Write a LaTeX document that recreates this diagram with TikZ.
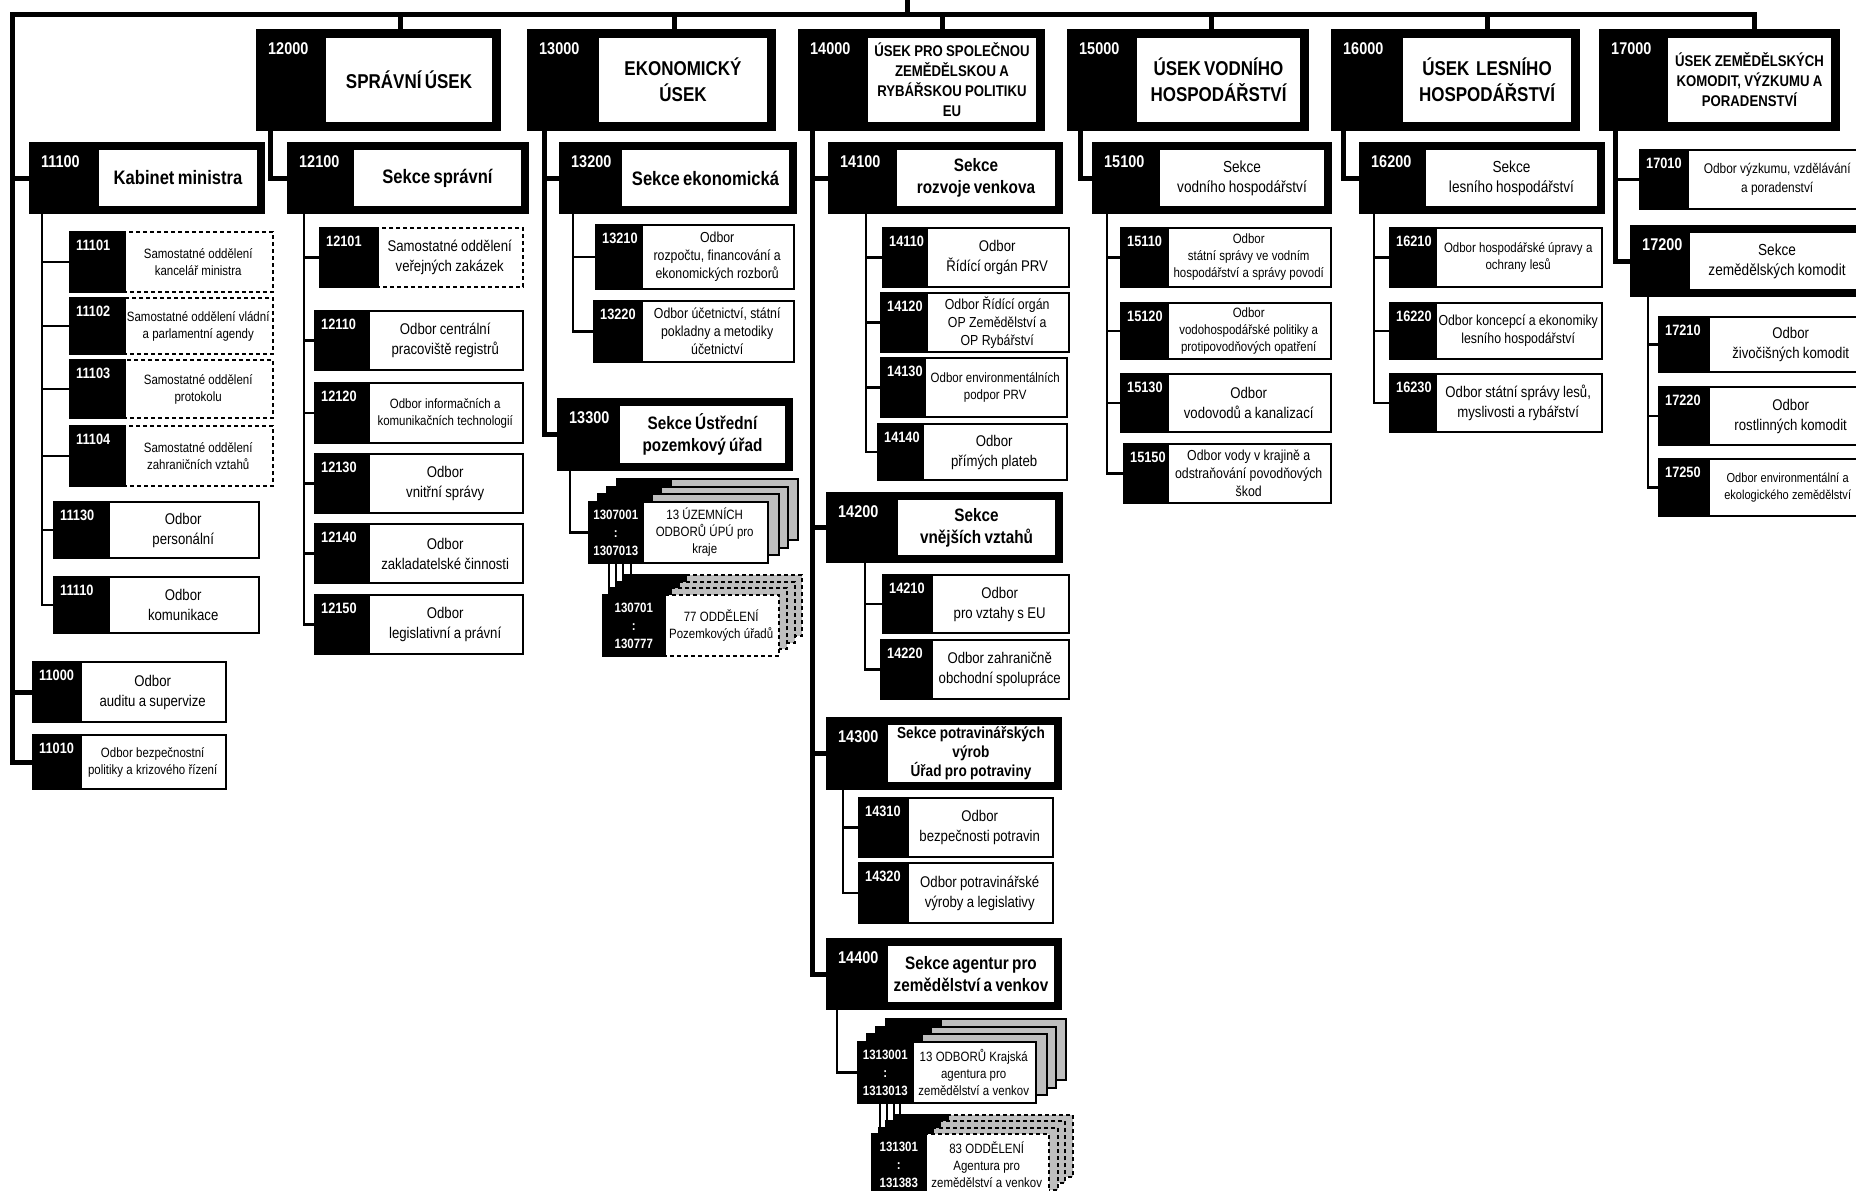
\documentclass[tikz,border=0pt]{standalone}
\usepackage{fontspec}
\setmainfont[FakeStretch=0.85]{Liberation Sans}
\usetikzlibrary{backgrounds}
\definecolor{layergray}{RGB}{190,190,190}
\newcommand\ftU{\bfseries\fontsize{20}{26}\selectfont}
\newcommand\ftUs{\bfseries\fontsize{15.5}{20}\selectfont}
\newcommand\ftS{\bfseries\fontsize{19.5}{22}\selectfont}
\newcommand\ftSt{\bfseries\fontsize{18}{22}\selectfont}
\newcommand\ftSp{\bfseries\fontsize{16}{19}\selectfont}
\newcommand\ftSr{\fontsize{16}{20}\selectfont}
\newcommand\ftA{\fontsize{15.5}{20}\selectfont}
\newcommand\ftAs{\fontsize{14}{19}\selectfont}
\newcommand\ftB{\fontsize{14.5}{18}\selectfont}
\newcommand\ftC{\fontsize{13.5}{17}\selectfont}
\newcommand\ftCs{\fontsize{13}{17}\selectfont}
\tikzset{
  trunk/.style={line width=5pt, line cap=rect},
  thinln/.style={line width=2.2pt},
  blkbox/.style={fill=black, draw=none, inner sep=0pt},
  whtbox/.style={fill=white, draw=none, inner sep=0pt},
  obox/.style={fill=white, draw=black, line width=2pt, inner sep=0pt},
  dbox/.style={obox, dash pattern=on 4pt off 3pt},
  txt/.style={align=center, inner sep=0pt},
  numlbl/.style={text=white, font=\bfseries\fontsize{15}{18}\selectfont, inner sep=0pt, anchor=north west},
  biglbl/.style={numlbl, font=\bfseries\fontsize{17}{20}\selectfont},
  stklbl/.style={text=white, font=\bfseries\fontsize{13.5}{18}\selectfont, align=center, inner sep=0pt},
}
% big / sekce box: name x1 y1 x2 y2 split inset number text
\newcommand\UsekBox[9]{%
  \pgfmathsetmacro\bxW{#4-#2}\pgfmathsetmacro\bxH{#5-#3}%
  \pgfmathsetmacro\bxWw{#4-#7-#6}\pgfmathsetmacro\bxHw{#5-#3-2*#7}%
  \pgfmathsetmacro\bxT{#4-#7-#6-4}%
  \pgfmathsetmacro\bxCx{(#2+#4)/2}\pgfmathsetmacro\bxCy{(#3+#5)/2}%
  \pgfmathsetmacro\bxWx{(#6+#4-#7)/2}%
  \pgfmathsetmacro\bxNx{#2+12}\pgfmathsetmacro\bxNy{#3+13}%
  \node[blkbox, minimum width=\bxW pt, minimum height=\bxH pt] (#1) at (\bxCx,\bxCy) {};%
  \node[whtbox, minimum width=\bxWw pt, minimum height=\bxHw pt] (#1w) at (\bxWx,\bxCy) {};%
  \node[txt, text width=\bxT pt] (#1x) at (#1w.center) {#9\par};%
  \node[biglbl] (#1n) at (\bxNx,\bxNy) {#8};%
}
% odbor box: name x1 y1 x2 y2 split style number text
\newcommand\OdbBox[9]{%
  \pgfmathsetmacro\bxW{#4-#2}\pgfmathsetmacro\bxH{#5-#3}%
  \pgfmathsetmacro\bxWk{#6-#2}\pgfmathsetmacro\bxWw{#4-#6}%
  \pgfmathsetmacro\bxT{#4-#6-5}%
  \pgfmathsetmacro\bxCx{(#2+#4)/2}\pgfmathsetmacro\bxCy{(#3+#5)/2}%
  \pgfmathsetmacro\bxNx{#2+7}\pgfmathsetmacro\bxNy{#3+8}%
  \node[inner sep=0pt, minimum width=\bxW pt, minimum height=\bxH pt] (#1) at (\bxCx,\bxCy) {};%
  \node[#7, minimum width=\bxWw pt, minimum height=\bxH pt, anchor=east] (#1w) at (#1.east) {};%
  \node[blkbox, draw=black, line width=2pt, minimum width=\bxWk pt, minimum height=\bxH pt, anchor=west] (#1k) at (#1.west) {};%
  \node[txt, text width=\bxT pt] (#1x) at (#1w.center) {#9\par};%
  \node[numlbl] (#1n) at (\bxNx,\bxNy) {#8};%
}
% stack: name x1 y1 x2 y2 split dx dy style
\newcommand\StackBox[9]{%
  \foreach \kk in {3,2,1}{%
    \pgfmathsetmacro\sxa{#2+\kk*#7}\pgfmathsetmacro\sya{#3-\kk*#8}%
    \pgfmathsetmacro\sxb{#6+\kk*#7}\pgfmathsetmacro\syb{#5-\kk*#8}%
    \pgfmathsetmacro\sxc{#4+\kk*#7}%
    \path[#9, fill=layergray] (\sxb,\sya) rectangle (\sxc,\syb);
    \path[fill=black, draw=black, line width=2pt] (\sxa,\sya) rectangle (\sxb,\syb);
  }%
  \pgfmathsetmacro\bxW{#4-#2}\pgfmathsetmacro\bxH{#5-#3}%
  \pgfmathsetmacro\bxWk{#6-#2}\pgfmathsetmacro\bxWw{#4-#6}%
  \pgfmathsetmacro\bxCx{(#2+#4)/2}\pgfmathsetmacro\bxCy{(#3+#5)/2}%
  \node[inner sep=0pt, minimum width=\bxW pt, minimum height=\bxH pt] (#1) at (\bxCx,\bxCy) {};%
  \node[#9, minimum width=\bxWw pt, minimum height=\bxH pt, anchor=east] (#1w) at (#1.east) {};%
  \node[blkbox, draw=black, line width=2pt, minimum width=\bxWk pt, minimum height=\bxH pt, anchor=west] (#1k) at (#1.west) {};%
}
\begin{document}
\begin{tikzpicture}[x=1pt,y=-1pt]
\useasboundingbox (0,0) rectangle (1856,1191);

% ---------- Úseky ----------
\UsekBox{n12000}{256}{29}{501}{131}{326}{9}{12000}{\ftU SPRÁVNÍ ÚSEK}
\UsekBox{n13000}{527}{29}{776}{131}{599}{9}{13000}{\ftU EKONOMICKÝ\\ÚSEK}
\UsekBox{n14000}{798}{29}{1045}{131}{868}{9}{14000}{\ftUs ÚSEK PRO SPOLEČNOU\\ZEMĚDĚLSKOU A\\RYBÁŘSKOU POLITIKU\\EU}
\UsekBox{n15000}{1067}{29}{1309}{131}{1137}{9}{15000}{\ftU ÚSEK VODNÍHO\\HOSPODÁŘSTVÍ}
\UsekBox{n16000}{1331}{29}{1580}{131}{1403}{9}{16000}{\ftU ÚSEK\ \ LESNÍHO\\HOSPODÁŘSTVÍ}
\UsekBox{n17000}{1599}{29}{1840}{131}{1668}{9}{17000}{\ftUs ÚSEK ZEMĚDĚLSKÝCH\\KOMODIT, VÝZKUMU A\\PORADENSTVÍ}

% ---------- Sekce ----------
\UsekBox{n11100}{29}{142}{265}{214}{99}{8}{11100}{\ftS Kabinet ministra}
\UsekBox{n12100}{287}{142}{529}{214}{354}{8}{12100}{\ftS Sekce správní}
\UsekBox{n13200}{559}{142}{797}{214}{622}{8}{13200}{\ftS Sekce ekonomická}
\UsekBox{n14100}{828}{142}{1063}{214}{897}{8}{14100}{\ftSt Sekce\\rozvoje venkova}
\UsekBox{n15100}{1092}{142}{1332}{214}{1160}{8}{15100}{\ftSr Sekce\\vodního hospodářství}
\UsekBox{n16200}{1359}{142}{1605}{214}{1426}{8}{16200}{\ftSr Sekce\\lesního hospodářství}
\UsekBox{n17200}{1630}{225}{1872}{297}{1690}{8}{17200}{\ftSr Sekce\\zemědělských komodit}
\UsekBox{n13300}{557}{398}{793}{471}{620}{8}{13300}{\ftSt Sekce Ústřední\\pozemkový úřad}
\UsekBox{n14200}{826}{492}{1063}{563}{898}{8}{14200}{\ftSt Sekce\\vnějších vztahů}
\UsekBox{n14300}{826}{717}{1062}{790}{888}{8}{14300}{\ftSp Sekce potravinářských\\výrob\\Úřad pro potraviny}
\UsekBox{n14400}{826}{938}{1062}{1010}{888}{8}{14400}{\ftSt Sekce agentur pro\\zemědělství a venkov}

% ---------- Odbory 11xxx ----------
\OdbBox{n11101}{69}{232}{274}{292}{124}{dbox}{11101}{\ftC Samostatné oddělení\\kancelář ministra}
\OdbBox{n11102}{69}{298}{274}{354}{124}{dbox}{11102}{\ftC Samostatné oddělení vládní\\a parlamentní agendy}
\OdbBox{n11103}{69}{360}{274}{418}{124}{dbox}{11103}{\ftC Samostatné oddělení\\protokolu}
\OdbBox{n11104}{69}{426}{274}{486}{124}{dbox}{11104}{\ftC Samostatné oddělení\\zahraničních vztahů}
\OdbBox{n11130}{53}{502}{260}{558}{108}{obox}{11130}{\ftA Odbor\\personální}
\OdbBox{n11110}{53}{577}{260}{633}{108}{obox}{11110}{\ftA Odbor\\komunikace}
\OdbBox{n11000}{32}{662}{227}{722}{80}{obox}{11000}{\ftA Odbor\\auditu a supervize}
\OdbBox{n11010}{32}{735}{227}{789}{80}{obox}{11010}{\ftC Odbor bezpečnostní\\politiky a krizového řízení}

% ---------- Odbory 12xxx ----------
\OdbBox{n12101}{319}{228}{524}{287}{377}{dbox}{12101}{\ftA Samostatné oddělení\\veřejných zakázek}
\OdbBox{n12110}{314}{311}{524}{370}{368}{obox}{12110}{\ftA Odbor centrální\\pracoviště registrů}
\OdbBox{n12120}{314}{383}{524}{443}{368}{obox}{12120}{\ftC Odbor informačních a\\komunikačních technologií}
\OdbBox{n12130}{314}{454}{524}{513}{368}{obox}{12130}{\ftA Odbor\\vnitřní správy}
\OdbBox{n12140}{314}{524}{524}{583}{368}{obox}{12140}{\ftA Odbor\\zakladatelské činnosti}
\OdbBox{n12150}{314}{595}{524}{654}{368}{obox}{12150}{\ftA Odbor\\legislativní a právní}

% ---------- Odbory 13xxx ----------
\OdbBox{n13210}{595}{225}{795}{289}{641}{obox}{13210}{\ftB Odbor\\rozpočtu, financování a\\ekonomických rozborů}
\OdbBox{n13220}{593}{301}{795}{362}{641}{obox}{13220}{\ftB Odbor účetnictví, státní\\pokladny a metodiky\\účetnictví}

% ---------- Odbory 14xxx ----------
\OdbBox{n14110}{882}{228}{1070}{287}{926}{obox}{14110}{\ftA Odbor\\Řídící orgán PRV}
\OdbBox{n14120}{880}{293}{1070}{352}{926}{obox}{14120}{\ftB Odbor Řídící orgán\\OP Zemědělství a\\OP Rybářství}
\OdbBox{n14130}{880}{358}{1068}{417}{924}{obox}{14130}{\ftC Odbor environmentálních\\podpor PRV}
\OdbBox{n14140}{877}{424}{1068}{480}{922}{obox}{14140}{\ftA Odbor\\přímých plateb}
\OdbBox{n14210}{882}{575}{1070}{633}{931}{obox}{14210}{\ftA Odbor\\pro vztahy s EU}
\OdbBox{n14220}{880}{640}{1070}{699}{931}{obox}{14220}{\ftA Odbor zahraničně\\obchodní spolupráce}
\OdbBox{n14310}{858}{798}{1054}{857}{907}{obox}{14310}{\ftA Odbor\\bezpečnosti potravin}
\OdbBox{n14320}{858}{863}{1054}{923}{907}{obox}{14320}{\ftA Odbor potravinářské\\výroby a legislativy}

% ---------- Odbory 15xxx ----------
\OdbBox{n15110}{1120}{228}{1332}{287}{1167}{obox}{15110}{\ftC Odbor\\státní správy ve vodním\\hospodářství a správy povodí}
\OdbBox{n15120}{1120}{303}{1332}{359}{1167}{obox}{15120}{\ftC Odbor\\vodohospodářské politiky a\\protipovodňových opatření}
\OdbBox{n15130}{1120}{374}{1332}{432}{1167}{obox}{15130}{\ftA Odbor\\vodovodů a kanalizací}
\OdbBox{n15150}{1123}{444}{1332}{503}{1167}{obox}{15150}{\ftB Odbor vody v krajině a\\odstraňování povodňových\\škod}

% ---------- Odbory 16xxx ----------
\OdbBox{n16210}{1389}{228}{1603}{287}{1435}{obox}{16210}{\ftC Odbor hospodářské úpravy a\\ochrany lesů}
\OdbBox{n16220}{1389}{303}{1603}{359}{1435}{obox}{16220}{\ftB Odbor koncepcí a ekonomiky\\lesního hospodářství}
\OdbBox{n16230}{1389}{374}{1603}{432}{1435}{obox}{16230}{\ftA Odbor státní správy lesů,\\myslivosti a rybářství}

% ---------- Odbory 17xxx ----------
\OdbBox{n17010}{1639}{150}{1869}{209}{1687}{obox}{17010}{\ftAs Odbor výzkumu, vzdělávání\\a poradenství}
\OdbBox{n17210}{1658}{317}{1875}{372}{1708}{obox}{17210}{\ftA Odbor\\živočišných komodit}
\OdbBox{n17220}{1658}{387}{1875}{445}{1708}{obox}{17220}{\ftA Odbor\\rostlinných komodit}
\OdbBox{n17250}{1658}{459}{1869}{516}{1708}{obox}{17250}{\ftCs Odbor environmentální a\\ekologického zemědělství}

% ---------- Stacks ----------
\StackBox{s1}{588}{502}{769}{563}{642}{9.5}{7.7}{obox}
\node[txt, text width=122pt] (s1x) at (s1w.center) {\ftC 13 ÚZEMNÍCH\\ODBORŮ ÚPÚ pro\\kraje\par};
\node[stklbl] (s1n) at (s1k.center) {1307001\\:\\1307013};
\StackBox{s2}{602}{595}{780}{656}{664}{7.3}{6.7}{dbox}
\node[txt, text width=112pt] (s2x) at (s2w.center) {\ftC 77 ODDĚLENÍ\\Pozemkových úřadů\par};
\node[stklbl] (s2n) at (s2k.center) {130701\\:\\130777};
\StackBox{s3}{857}{1042}{1037}{1103}{912}{9.7}{7.7}{obox}
\node[txt, text width=121pt] (s3x) at (s3w.center) {\ftC 13 ODBORŮ Krajská\\agentura pro\\zemědělství a venkov\par};
\node[stklbl] (s3n) at (s3k.center) {1313001\\:\\1313013};
\StackBox{s4}{871}{1134}{1050}{1196}{925}{7.7}{6.3}{dbox}
\node[txt, text width=121pt] (s4x) at (s4w.center) {\ftC 83 ODDĚLENÍ\\Agentura pro\\zemědělství a venkov\par};
\node[stklbl] (s4n) at (s4k.center) {131301\\:\\131383};

% ---------- Connectors (behind boxes) ----------
\begin{pgfonlayer}{background}
\fill[white] (0,0) rectangle (1856,1191);
\coordinate (root) at (907,0);
\coordinate (tl) at (12,14);
\coordinate (tr) at (1754,14);
\draw[trunk] (root) -- (root |- tl);
\draw[trunk] (n11010.west) -| (tl) -- (tr) -- (tr |- n17000.north);
\draw[trunk] (tl) |- (n11100.west);
\draw[trunk] (tl) |- (n11000.west);
\foreach \n/\x in {12000/400,13000/674,14000/942,15000/1211,16000/1487}{
  \coordinate (st) at (\x,14);
  \draw[trunk] (st) -- (st |- n\n.north);
}
\coordinate (v12000) at (270,131);
\draw[trunk] (v12000) |- (n12100.west);
\coordinate (v13000) at (544,131);
\draw[trunk] (v13000) |- (n13200.west);
\draw[trunk] (v13000) |- (n13300.west);
\coordinate (v14000) at (812,131);
\foreach \c in {14100,14200,14300,14400} \draw[trunk] (v14000) |- (n\c.west);
\coordinate (v15000) at (1080,131);
\draw[trunk] (v15000) |- (n15100.west);
\coordinate (v16000) at (1343,131);
\draw[trunk] (v16000) |- (n16200.west);
\coordinate (v17000) at (1615,131);
\draw[trunk] (v17000) |- (n17200.west);
\draw[thinln] (v17000) |- (n17010.west);

\coordinate (v11100) at (42,214);
\foreach \c in {11101,11102,11103,11104,11130,11110} \draw[thinln] (v11100) |- (n\c.west);
\coordinate (v12100) at (304,214);
\foreach \c in {12101,12110,12120,12130,12140,12150} \draw[thinln] (v12100) |- (n\c.west);
\coordinate (v13200) at (573,214);
\foreach \c in {13210,13220} \draw[thinln] (v13200) |- (n\c.west);
\coordinate (v13300) at (570,471);
\draw[thinln] (v13300) |- (s1.west);
\coordinate (v14100) at (866,214);
\foreach \c in {14110,14120,14130,14140} \draw[thinln] (v14100) |- (n\c.west);
\coordinate (v14200) at (865,563);
\foreach \c in {14210,14220} \draw[thinln] (v14200) |- (n\c.west);
\coordinate (v14300) at (843,790);
\foreach \c in {14310,14320} \draw[thinln] (v14300) |- (n\c.west);
\coordinate (v14400) at (837,1010);
\draw[thinln] (v14400) |- (s3.west);
\coordinate (v15100) at (1107,214);
\foreach \c in {15110,15120,15130,15150} \draw[thinln] (v15100) |- (n\c.west);
\coordinate (v16200) at (1374,214);
\foreach \c in {16210,16220,16230} \draw[thinln] (v16200) |- (n\c.west);
\coordinate (v17200) at (1648,297);
\foreach \c in {17210,17220,17250} \draw[thinln] (v17200) |- (n\c.west);

\foreach \d in {21,28,35,43}{
  \path ([xshift=\d pt]s1.south west) coordinate (ta);
  \draw[thinln] (ta) -- (ta |- s2.north);
}
\foreach \d in {23,30,37,43}{
  \path ([xshift=\d pt]s3.south west) coordinate (tb);
  \draw[thinln] (tb) -- (tb |- s4.north);
}
\end{pgfonlayer}
\end{tikzpicture}
\end{document}
